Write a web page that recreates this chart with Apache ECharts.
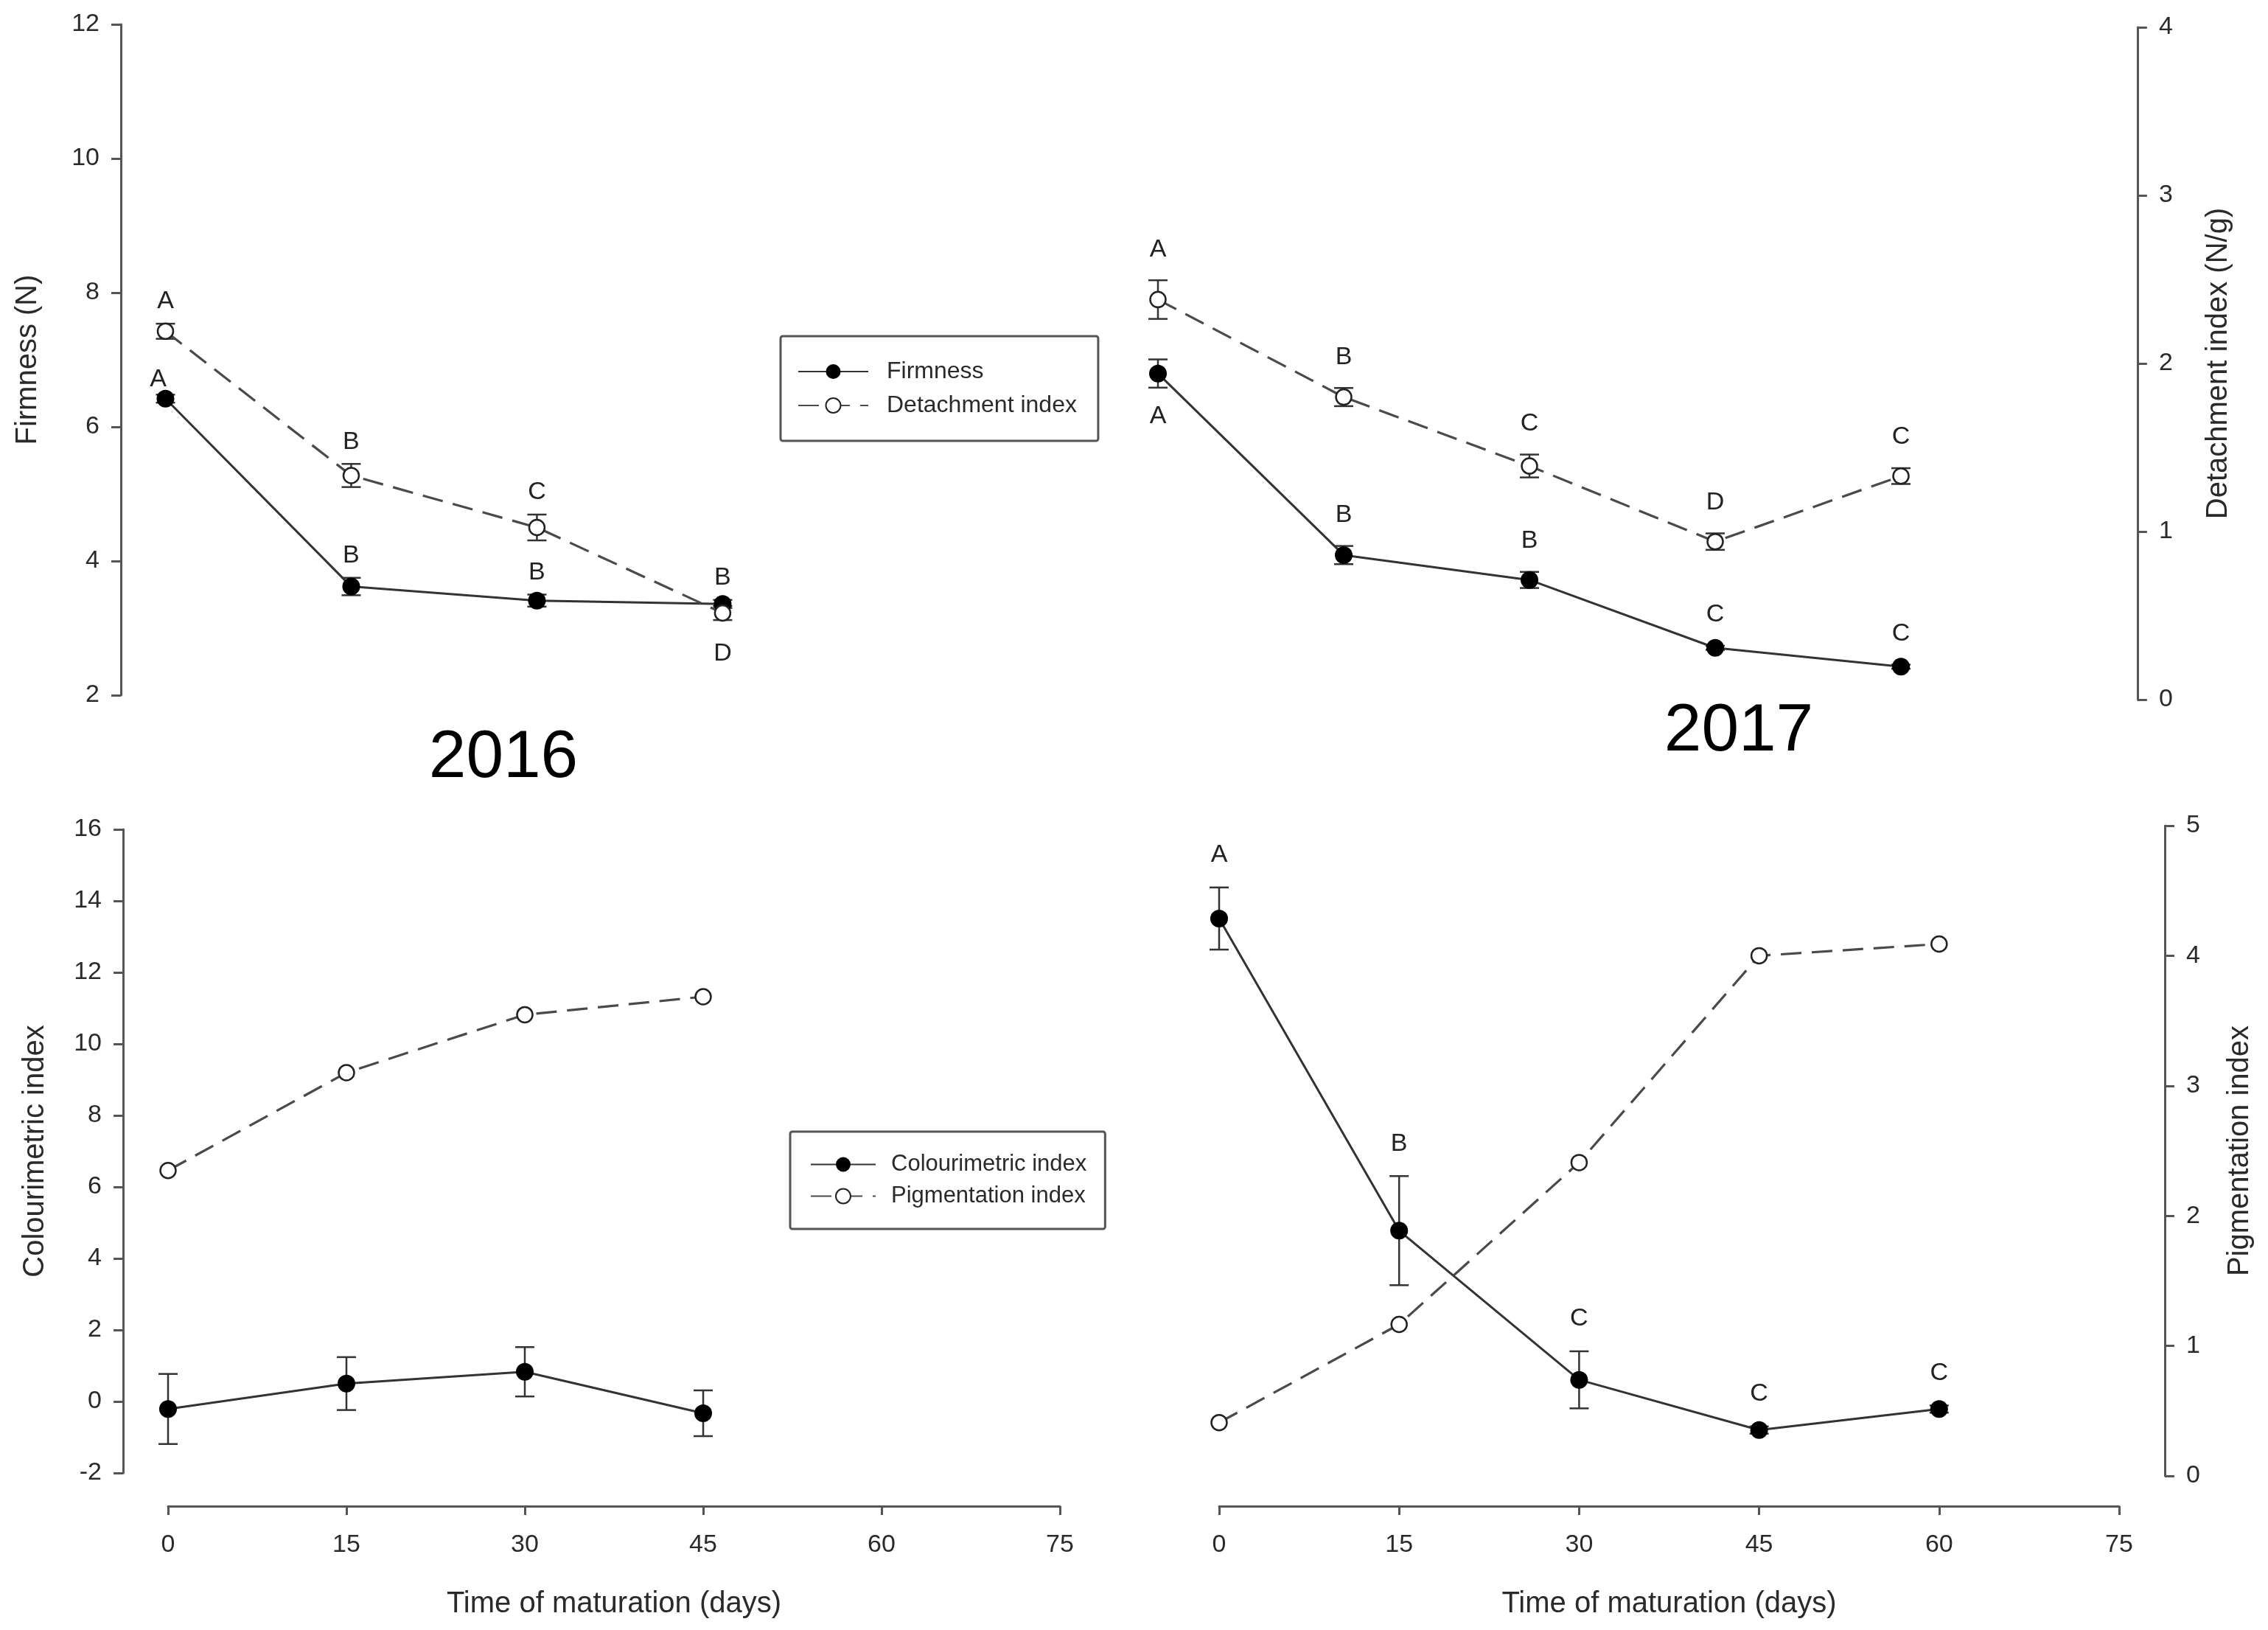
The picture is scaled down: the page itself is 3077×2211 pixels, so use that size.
<!DOCTYPE html>
<html>
<head>
<meta charset="utf-8">
<script src="https://cdn.jsdelivr.net/npm/echarts@6/dist/echarts.min.js"></script>
<style>
html,body{margin:0;padding:0;background:#fff;}
#chart{width:3077px;height:2211px;}
</style>
</head>
<body>
<div id="chart"></div>
<script>
// ---------- data ----------
const days16 = [0, 15, 30, 45];
const days17 = [0, 15, 30, 45, 60];
const xTicks = [0, 15, 30, 45, 60, 75];

const firmnessTicks = [2, 4, 6, 8, 10, 12];
const detachmentTicks = [0, 1, 2, 3, 4];
const colourTicks = [-2, 0, 2, 4, 6, 8, 10, 12, 14, 16];
const pigmentTicks = [0, 1, 2, 3, 4, 5];

const firm16 = [6.42, 3.62, 3.41, 3.36];
const firm16Err = [0.06, 0.13, 0.09, 0.06];
const firm16Letters = ['A', 'B', 'B', 'B'];
const detach16 = [2.17, 1.31, 1.00, 0.49];
const detach16Err = [0.045, 0.069, 0.077, 0.042];
const detach16Letters = ['A', 'B', 'C', 'D'];

const firm17 = [6.85, 4.15, 3.78, 2.77, 2.49];
const firm17Err = [0.21, 0.135, 0.12, 0.03, 0.03];
const firm17Letters = ['A', 'B', 'B', 'C', 'C'];
const detach17 = [2.38, 1.80, 1.39, 0.94, 1.33];
const detach17Err = [0.115, 0.054, 0.068, 0.049, 0.047];
const detach17Letters = ['A', 'B', 'C', 'D', 'C'];

const colour16 = [-0.21, 0.50, 0.83, -0.33];
const colour16Err = [0.98, 0.74, 0.69, 0.64];
const pigment16 = [2.35, 3.11, 3.56, 3.70];

const colour17 = [13.43, 4.79, 0.66, -0.73, -0.15];
const colour17Err = [0.86, 1.51, 0.79, 0.10, 0.10];
const colour17Letters = ['A', 'B', 'C', 'C', 'C'];
const pigment17 = [0.41, 1.165, 2.41, 4.00, 4.09];

// letter placement (style, kept apart from values)
const firm16Side = ['upleft', 'up', 'up', 'up'];
const detach16Side = ['up', 'up', 'up', 'down'];
const firm17Side = ['down', 'up', 'up', 'up', 'up'];
const detach17Side = ['up', 'up', 'up', 'up', 'up'];
const colour17Side = ['up', 'up', 'up', 'up', 'up'];

// ---------- styles ----------
const SANS = "'Liberation Sans', Arial, sans-serif";
const AX = '#555';
const TXT = '#2a2a2a';

function visibleY(opts) {
  const t = opts.ticks;
  return Object.assign({
    type: 'value',
    min: t[0], max: t[t.length - 1], interval: t[1] - t[0],
    axisLine: { show: true, onZero: false, lineStyle: { color: AX, width: 3 } },
    axisTick: { show: true, length: 13, lineStyle: { color: AX, width: 3 } },
    axisLabel: { margin: 29, fontSize: 34, fontFamily: SANS, color: TXT },
    splitLine: { show: false },
    nameLocation: 'middle',
    nameTextStyle: { fontSize: 40, fontFamily: SANS, color: TXT }
  }, opts.extra);
}
function hiddenY(ticks, gridIndex, position) {
  return { type: 'value', gridIndex: gridIndex, position: position, show: false,
    axisLine: { onZero: false },
    min: ticks[0], max: ticks[ticks.length - 1], splitLine: { show: false } };
}
function visibleX(gridIndex, offset) {
  return {
    type: 'value', gridIndex: gridIndex, position: 'bottom', offset: offset,
    min: xTicks[0], max: xTicks[xTicks.length - 1], interval: xTicks[1] - xTicks[0],
    axisLine: { show: true, onZero: false, lineStyle: { color: AX, width: 3 } },
    axisTick: { show: true, length: 12, lineStyle: { color: AX, width: 3 } },
    axisLabel: { margin: 36, fontSize: 34, fontFamily: SANS, color: TXT },
    splitLine: { show: false },
    name: 'Time of maturation (days)', nameLocation: 'middle', nameGap: 113,
    nameTextStyle: { fontSize: 40, fontFamily: SANS, color: TXT }
  };
}

function solidLine(name, xi, yi, xs, ys) {
  return {
    type: 'line', name: name, xAxisIndex: xi, yAxisIndex: yi, z: 3,
    data: xs.map((x, i) => [x, ys[i]]),
    symbol: 'circle', symbolSize: 24, showSymbol: true,
    lineStyle: { color: '#333', width: 3 },
    itemStyle: { color: '#000', borderColor: '#000', borderWidth: 0 },
    emphasis: { disabled: true }
  };
}
function dashedLine(name, xi, yi, xs, ys) {
  return {
    type: 'line', name: name, xAxisIndex: xi, yAxisIndex: yi, z: 3,
    data: xs.map((x, i) => [x, ys[i]]),
    symbol: 'circle', symbolSize: 21, showSymbol: true,
    lineStyle: { color: '#4a4a4a', width: 3.2, type: [28, 14] },
    itemStyle: { color: '#fff', borderColor: '#222', borderWidth: 2.5 },
    emphasis: { disabled: true }
  };
}
function errorBars(xi, yi, xs, ys, errs) {
  return {
    type: 'custom', xAxisIndex: xi, yAxisIndex: yi, z: 2, silent: true,
    encode: { x: 0, y: [1, 2] },
    data: xs.map((x, i) => [x, ys[i] - errs[i], ys[i] + errs[i]]),
    renderItem: function (params, api) {
      const lo = api.coord([api.value(0), api.value(1)]);
      const hi = api.coord([api.value(0), api.value(2)]);
      const w = 13;
      const st = { stroke: '#333', lineWidth: 2.5 };
      return { type: 'group', children: [
        { type: 'line', shape: { x1: hi[0], y1: hi[1], x2: lo[0], y2: lo[1] }, style: st },
        { type: 'line', shape: { x1: hi[0] - w, y1: hi[1], x2: hi[0] + w, y2: hi[1] }, style: st },
        { type: 'line', shape: { x1: lo[0] - w, y1: lo[1], x2: lo[0] + w, y2: lo[1] }, style: st }
      ]};
    }
  };
}
function letterSeries(xi, yi, xs, ys, errs, letters, sides, gapUp, gapDown) {
  return {
    type: 'custom', xAxisIndex: xi, yAxisIndex: yi, z: 5, silent: true,
    encode: { x: 0, y: 1 },
    data: xs.map((x, i) => [x, ys[i], errs[i]]),
    renderItem: function (params, api) {
      const i = params.dataIndex;
      const x = api.value(0), y = api.value(1), e = api.value(2);
      const side = sides[i];
      const down = side === 'down';
      const p = api.coord([x, down ? y - e : y + e]);
      let dx = 0, dy = down ? gapDown : -gapUp;
      if (side === 'upleft') { dx = -10; dy = -21; }
      return { type: 'text', x: p[0] + dx, y: p[1] + dy,
        style: { text: letters[i], fontSize: 34, fontFamily: SANS, fill: '#222',
                 align: 'center', verticalAlign: 'middle' } };
    }
  };
}

const chart = echarts.init(document.getElementById('chart'), null, { renderer: 'canvas' });

const option = {
  backgroundColor: '#fff',
  animation: false,
  grid: [
    { left: 164, top: 33, width: 934, height: 910, outerBoundsMode: 'none' },
    { left: 1503.8, top: 37, width: 1396.1, height: 912, outerBoundsMode: 'none' },
    { left: 228, top: 1125, width: 1210, height: 873, outerBoundsMode: 'none' },
    { left: 1654, top: 1120, width: 1221, height: 882, outerBoundsMode: 'none' }
  ],
  xAxis: [
    { type: 'value', gridIndex: 0, show: false, min: -3.6, max: 52, axisLine: { onZero: false }, splitLine: { show: false } },
    { type: 'value', gridIndex: 1, show: false, min: -4, max: 79.1, axisLine: { onZero: false }, splitLine: { show: false } },
    visibleX(2, 45),
    visibleX(3, 41)
  ],
  yAxis: [
    visibleY({ ticks: firmnessTicks, extra: { gridIndex: 0, position: 'left', name: 'Firmness (N)', nameGap: 106 } }),
    hiddenY(detachmentTicks, 0, 'right'),
    hiddenY(firmnessTicks, 1, 'left'),
    visibleY({ ticks: detachmentTicks, extra: { gridIndex: 1, position: 'right', name: 'Detachment index (N/g)', nameGap: 90 } }),
    visibleY({ ticks: colourTicks, extra: { gridIndex: 2, position: 'left', offset: 61, name: 'Colourimetric index', nameGap: 99 } }),
    hiddenY(pigmentTicks, 2, 'right'),
    hiddenY(colourTicks, 3, 'left'),
    visibleY({ ticks: pigmentTicks, extra: { gridIndex: 3, position: 'right', offset: 62, name: 'Pigmentation index', nameGap: 82 } })
  ],
  legend: [
    {
      data: ['Firmness', 'Detachment index'], orient: 'vertical',
      left: 1059, top: 456, padding: [32, 29, 32, 23],
      itemWidth: 95, itemHeight: 25, itemGap: 14,
      borderColor: '#555', borderWidth: 3, borderRadius: 3,
      selectedMode: false,
      textStyle: { fontSize: 32, fontFamily: SANS, color: TXT, padding: [0, 0, 0, 20] }
    },
    {
      data: ['Colourimetric index', 'Pigmentation index'], orient: 'vertical',
      left: 1072, top: 1535, padding: [29, 25, 29, 27],
      itemWidth: 88, itemHeight: 25, itemGap: 12,
      borderColor: '#555', borderWidth: 3, borderRadius: 3,
      selectedMode: false,
      textStyle: { fontSize: 31, fontFamily: SANS, color: TXT, padding: [0, 0, 0, 16] }
    }
  ],
  graphic: [
    { type: 'text', x: 683, y: 1029, style: { text: '2016', fontSize: 91, fontFamily: SANS, fill: '#000', align: 'center', verticalAlign: 'middle' } },
    { type: 'text', x: 2359, y: 993, style: { text: '2017', fontSize: 91, fontFamily: SANS, fill: '#000', align: 'center', verticalAlign: 'middle' } }
  ],
  series: [
    // 2016 top
    errorBars(0, 0, days16, firm16, firm16Err),
    errorBars(0, 1, days16, detach16, detach16Err),
    solidLine('Firmness', 0, 0, days16, firm16),
    dashedLine('Detachment index', 0, 1, days16, detach16),
    letterSeries(0, 0, days16, firm16, firm16Err, firm16Letters, firm16Side, 30, 46),
    letterSeries(0, 1, days16, detach16, detach16Err, detach16Letters, detach16Side, 30, 46),
    // 2017 top
    errorBars(1, 2, days17, firm17, firm17Err),
    errorBars(1, 3, days17, detach17, detach17Err),
    solidLine('Firmness', 1, 2, days17, firm17),
    dashedLine('Detachment index', 1, 3, days17, detach17),
    letterSeries(1, 2, days17, firm17, firm17Err, firm17Letters, firm17Side, 42, 39),
    letterSeries(1, 3, days17, detach17, detach17Err, detach17Letters, detach17Side, 42, 39),
    // 2016 bottom
    errorBars(2, 4, days16, colour16, colour16Err),
    solidLine('Colourimetric index', 2, 4, days16, colour16),
    dashedLine('Pigmentation index', 2, 5, days16, pigment16),
    // 2017 bottom
    errorBars(3, 6, days17, colour17, colour17Err),
    solidLine('Colourimetric index', 3, 6, days17, colour17),
    dashedLine('Pigmentation index', 3, 7, days17, pigment17),
    letterSeries(3, 6, days17, colour17, colour17Err, colour17Letters, colour17Side, 44, 40)
  ]
};
chart.setOption(option);
</script>
</body>
</html>
